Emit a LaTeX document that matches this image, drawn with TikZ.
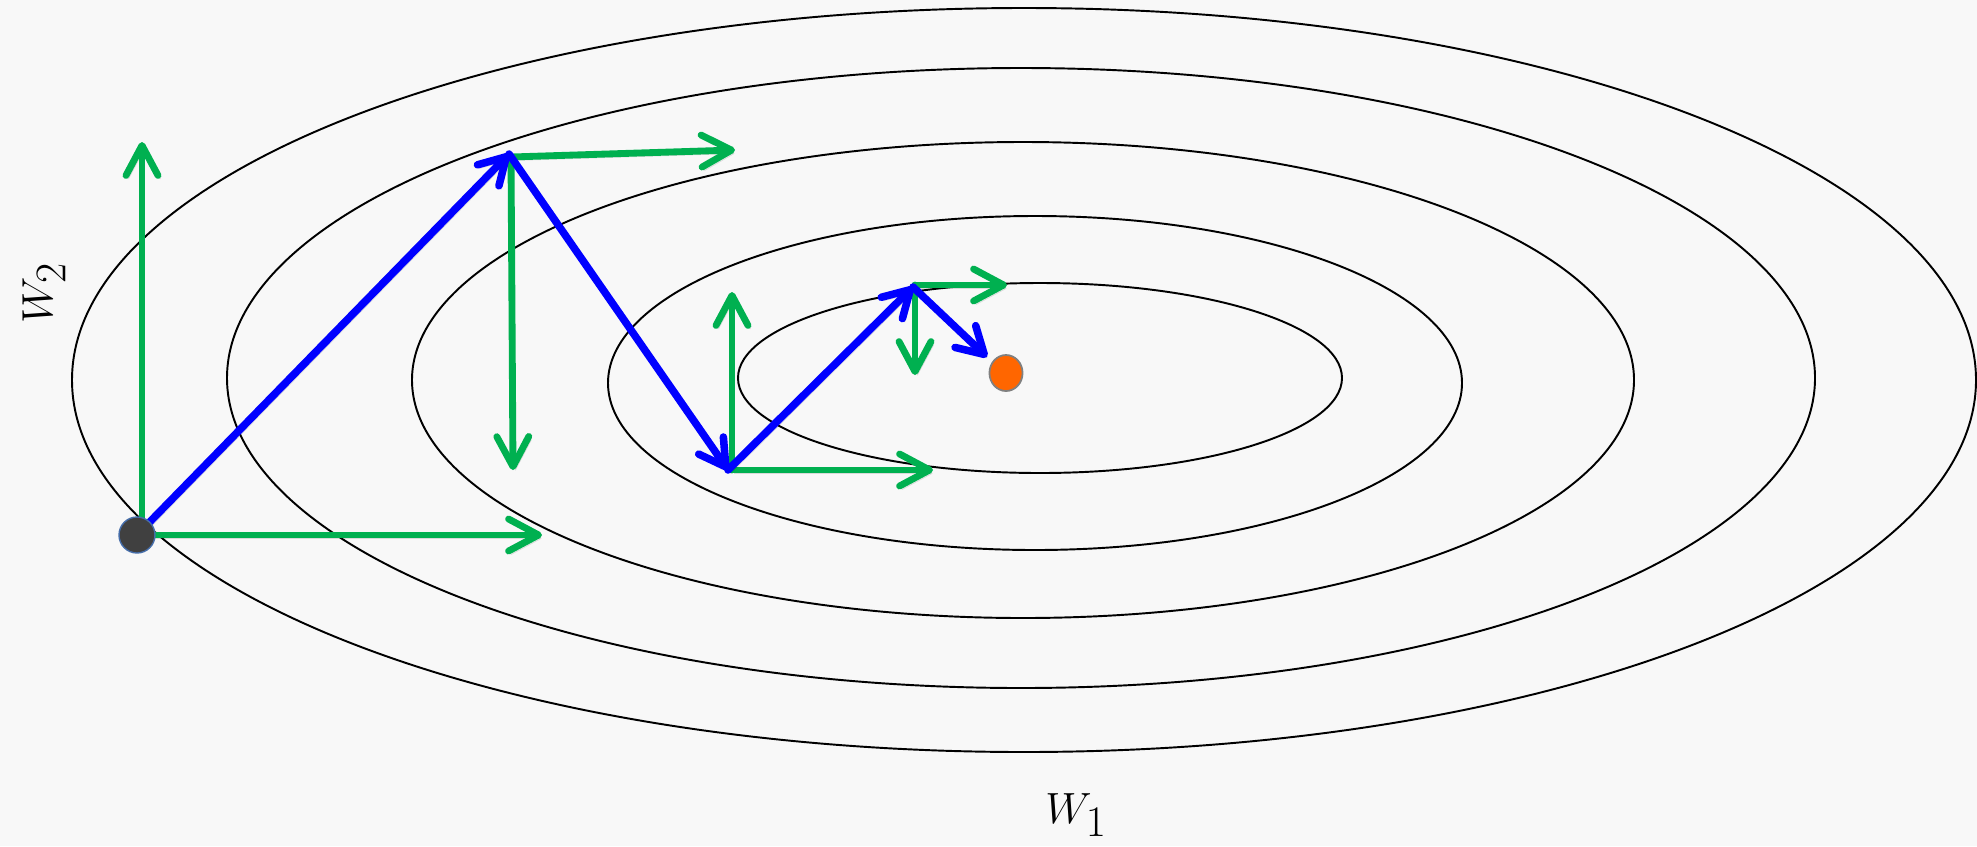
\documentclass[tikz,border=0pt]{standalone}
\usetikzlibrary{arrows.meta}
\definecolor{bg}{RGB}{248,248,248}
\definecolor{ggreen}{RGB}{0,176,80}
\definecolor{gblue}{RGB}{0,0,255}
\definecolor{gorange}{RGB}{255,102,0}
\definecolor{gdark}{RGB}{64,64,64}
\definecolor{gedge}{RGB}{70,110,170}
\tikzset{
  contour/.style={draw=black, line width=1.1pt},
  garrow/.style={draw=ggreen, line width=3.9pt, line cap=round,
    -{Straight Barb[length=0.6cm, width=0.64cm, line cap=round, line join=round]}},
  barrow/.style={draw=gblue, line width=4.3pt, line cap=round,
    -{Straight Barb[length=0.52cm, width=0.6cm, line cap=round, line join=round]}},
  shadowed/.style={preaction={draw=black, draw opacity=0.12, transform canvas={xshift=0.05cm, yshift=-0.07cm}}},
  lbl/.style={inner sep=0pt, font=\fontsize{35}{42}\selectfont},
}
\begin{document}
\begin{tikzpicture}[x=0.02cm, y=-0.02cm]
\fill[bg] (0,0) rectangle (1977,846);
\useasboundingbox (0,0) rectangle (1977,846);
% contour ellipses
\draw[contour] (1024,380) ellipse [x radius=952, y radius=372];
\draw[contour] (1021,378) ellipse [x radius=794, y radius=310];
\draw[contour] (1023,380) ellipse [x radius=611, y radius=238];
\draw[contour] (1035,383) ellipse [x radius=427, y radius=167];
\draw[contour] (1040,378) ellipse [x radius=302, y radius=95];
% key points
\coordinate (S) at (137,535);
\coordinate (Sup) at (142,535);
\coordinate (Sup2) at (142,142);
\coordinate (Sr) at (542,535);
\coordinate (P1) at (509,154);
\coordinate (P1g) at (511,157);
\coordinate (P1r) at (735,150);
\coordinate (P1d) at (513,470);
\coordinate (P2) at (728,470);
\coordinate (P2g) at (732,470);
\coordinate (P2u) at (732,292);
\coordinate (P2r) at (933,470);
\coordinate (P3) at (913,287);
\coordinate (P3g) at (915,285);
\coordinate (P3r) at (1007,285);
\coordinate (P3d) at (915,375);
\coordinate (P4) at (987,357);
% green gradient components
\draw[garrow, shadowed] (Sup) -- (Sup2);
\draw[garrow, shadowed] (S) -- (Sr);
\draw[garrow, shadowed] (P1g) -- (P1r);
\draw[garrow, shadowed] (P1g) -- (P1d);
\draw[garrow, shadowed] (P2g) -- (P2u);
\draw[garrow, shadowed] (P2g) -- (P2r);
\draw[garrow, shadowed] (P3g) -- (P3r);
\draw[garrow, shadowed] (P3g) -- (P3d);
% blue steps
\draw[barrow, shadowed] (S) -- (P1);
\draw[barrow, shadowed] (P1) -- (P2);
\draw[barrow, shadowed] (P2) -- (P3);
\draw[barrow, shadowed] (P3) -- (P4);
% start and optimum
\node[circle, fill=gdark, draw=gedge, line width=0.8pt, minimum size=0.72cm, inner sep=0pt] (start) at (S) {};
\node[circle, fill=gorange, draw=gray, line width=1pt, minimum width=0.72cm, inner sep=0pt, xscale=0.92] (opt) at (1006,373) {};
% axis labels
\node[lbl, rotate=90] (w2) at (44,293) {$W_2$};
\node[lbl] (w1) at (1076,815) {$W_1$};
\end{tikzpicture}
\end{document}
